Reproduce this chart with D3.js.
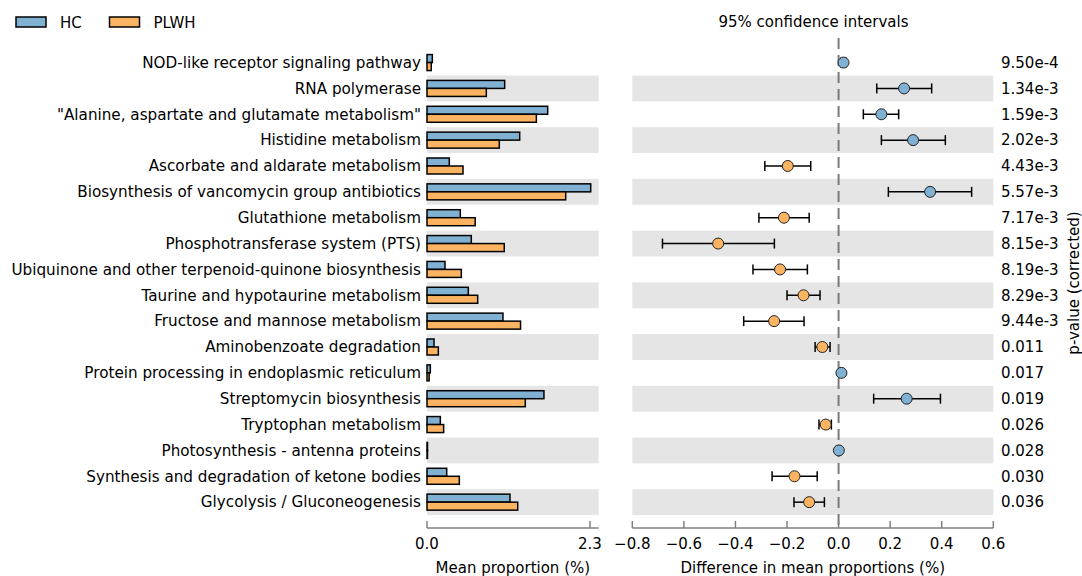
<!DOCTYPE html>
<html>
<head>
<meta charset="utf-8">
<script src="https://cdn.jsdelivr.net/npm/d3@7"></script>
<style>
  body { margin: 0; background: #fff; }
  svg text { font-family: "DejaVu Sans", sans-serif; fill: #000; }
</style>
</head>
<body>
<svg id="chart" width="1082" height="576"></svg>
<script>
var categories = [
  "NOD-like receptor signaling pathway",
  "RNA polymerase",
  "\"Alanine, aspartate and glutamate metabolism\"",
  "Histidine metabolism",
  "Ascorbate and aldarate metabolism",
  "Biosynthesis of vancomycin group antibiotics",
  "Glutathione metabolism",
  "Phosphotransferase system (PTS)",
  "Ubiquinone and other terpenoid-quinone biosynthesis",
  "Taurine and hypotaurine metabolism",
  "Fructose and mannose metabolism",
  "Aminobenzoate degradation",
  "Protein processing in endoplasmic reticulum",
  "Streptomycin biosynthesis",
  "Tryptophan metabolism",
  "Photosynthesis - antenna proteins",
  "Synthesis and degradation of ketone bodies",
  "Glycolysis / Gluconeogenesis"
];
var hcMean   = [0.075, 1.096, 1.703, 1.308, 0.315, 2.31, 0.47, 0.625, 0.254, 0.583, 1.072, 0.099, 0.047, 1.65, 0.188, 0.006, 0.278, 1.171];
var plwhMean = [0.06, 0.837, 1.543, 1.02, 0.508, 1.957, 0.68, 1.09, 0.484, 0.715, 1.32, 0.16, 0.03, 1.387, 0.235, 0.005, 0.456, 1.28];
var diffMean = [0.019, 0.254, 0.166, 0.289, -0.197, 0.355, -0.212, -0.467, -0.227, -0.136, -0.25, -0.063, 0.011, 0.264, -0.05, 0.001, -0.171, -0.114];
var ciLow    = [0.009, 0.148, 0.096, 0.166, -0.286, 0.193, -0.309, -0.683, -0.332, -0.2, -0.368, -0.091, 0.006, 0.136, -0.076, -0.001, -0.258, -0.173];
var ciHigh   = [0.029, 0.361, 0.233, 0.414, -0.108, 0.516, -0.114, -0.249, -0.121, -0.072, -0.134, -0.033, 0.016, 0.395, -0.028, 0.003, -0.083, -0.055];
var pValues  = ["9.50e-4", "1.34e-3", "1.59e-3", "2.02e-3", "4.43e-3", "5.57e-3", "7.17e-3", "8.15e-3", "8.19e-3", "8.29e-3", "9.44e-3", "0.011", "0.017", "0.019", "0.026", "0.028", "0.030", "0.036"];
var groups = ["HC", "PLWH"];
var groupColors = ["#80b1d3", "#fdb462"];
var barTicks = [0, 2.3];
var diffTicks = [-0.8, -0.6, -0.4, -0.2, 0.0, 0.2, 0.4, 0.6];

var svg = d3.select("#chart");
var fontSize = 15;
var plotTop = 38, plotBottom = 528;

var y = d3.scaleLinear()
    .domain([-0.95, 18])
    .range([plotTop, plotBottom]);
var rowH = y(1) - y(0);

var xBar = d3.scaleLinear()
    .domain([0, 2.3])
    .range([427, 590]);
var barRight = 598.7;

var xDiff = d3.scaleLinear()
    .domain([-0.8, 0.6])
    .range([632.3, 993.3]);

var rows = categories.map(function(c, i) {
  return {name: c, i: i, hc: hcMean[i], plwh: plwhMean[i], diff: diffMean[i], lo: ciLow[i], hi: ciHigh[i], p: pValues[i]};
});

// alternating stripes
var stripes = rows.filter(function(d) { return d.i % 2 == 1; });
svg.append("g").selectAll("rect")
    .data(stripes)
    .enter().append("rect")
    .attr("x", xBar(0))
    .attr("width", barRight - xBar(0))
    .attr("y", function(d) { return y(d.i) - rowH / 2; })
    .attr("height", rowH)
    .attr("fill", "#e5e5e5");
svg.append("g").selectAll("rect")
    .data(stripes)
    .enter().append("rect")
    .attr("x", xDiff.range()[0])
    .attr("width", xDiff.range()[1] - xDiff.range()[0])
    .attr("y", function(d) { return y(d.i) - rowH / 2; })
    .attr("height", rowH)
    .attr("fill", "#e5e5e5");

// category labels
svg.append("g").selectAll("text")
    .data(rows)
    .enter().append("text")
    .attr("x", 421)
    .attr("y", function(d) { return y(d.i); })
    .attr("dy", "0.35em")
    .attr("text-anchor", "end")
    .style("font-size", "15.2px")
    .text(function(d) { return d.name; });

// bars
var barH = 8;
var bars = svg.append("g");
bars.selectAll("rect.hc")
    .data(rows)
    .enter().append("rect")
    .attr("class", "hc")
    .attr("x", xBar(0))
    .attr("y", function(d) { return y(d.i) - barH; })
    .attr("width", function(d) { return Math.max(xBar(d.hc) - xBar(0), 0.5); })
    .attr("height", barH)
    .attr("fill", groupColors[0])
    .attr("stroke", "#000")
    .attr("stroke-width", 1.5);
bars.selectAll("rect.plwh")
    .data(rows)
    .enter().append("rect")
    .attr("class", "plwh")
    .attr("x", xBar(0))
    .attr("y", function(d) { return y(d.i); })
    .attr("width", function(d) { return Math.max(xBar(d.plwh) - xBar(0), 0.5); })
    .attr("height", barH)
    .attr("fill", groupColors[1])
    .attr("stroke", "#000")
    .attr("stroke-width", 1.5);

// bar axis
var barAxis = svg.append("g")
    .attr("transform", "translate(0," + plotBottom + ")");
barAxis.append("line")
    .attr("x1", xBar(0)).attr("x2", barRight)
    .attr("stroke", "#808080").attr("stroke-width", 1.5);
barAxis.selectAll("line.tick")
    .data(barTicks)
    .enter().append("line")
    .attr("class", "tick")
    .attr("x1", xBar).attr("x2", xBar)
    .attr("y1", 0).attr("y2", -7)
    .attr("stroke", "#808080").attr("stroke-width", 1.5);
barAxis.selectAll("text")
    .data(barTicks)
    .enter().append("text")
    .attr("x", xBar)
    .attr("y", 21)
    .attr("text-anchor", "middle")
    .style("font-size", fontSize + "px")
    .text(d3.format(".1f"));
svg.append("text")
    .attr("x", (xBar(0) + barRight) / 2)
    .attr("y", 573)
    .attr("text-anchor", "middle")
    .style("font-size", fontSize + "px")
    .text("Mean proportion (%)");

// zero line
svg.append("line")
    .attr("x1", xDiff(0)).attr("x2", xDiff(0))
    .attr("y1", plotTop).attr("y2", plotBottom)
    .attr("stroke", "#7a7a7a")
    .attr("stroke-width", 2)
    .attr("stroke-dasharray", "11,6");

// confidence intervals
var ci = svg.append("g");
ci.selectAll("line.ci")
    .data(rows)
    .enter().append("line")
    .attr("class", "ci")
    .attr("x1", function(d) { return xDiff(d.lo); })
    .attr("x2", function(d) { return xDiff(d.hi); })
    .attr("y1", function(d) { return y(d.i); })
    .attr("y2", function(d) { return y(d.i); })
    .attr("stroke", "#000").attr("stroke-width", 1.5);
["lo", "hi"].forEach(function(k) {
  ci.selectAll("line.cap-" + k)
      .data(rows)
      .enter().append("line")
      .attr("class", "cap-" + k)
      .attr("x1", function(d) { return xDiff(d[k]); })
      .attr("x2", function(d) { return xDiff(d[k]); })
      .attr("y1", function(d) { return y(d.i) - 5; })
      .attr("y2", function(d) { return y(d.i) + 5; })
      .attr("stroke", "#000").attr("stroke-width", 1.5);
});
ci.selectAll("circle")
    .data(rows)
    .enter().append("circle")
    .attr("cx", function(d) { return xDiff(d.diff); })
    .attr("cy", function(d) { return y(d.i); })
    .attr("r", 5.5)
    .attr("fill", function(d) { return d.diff >= 0 ? groupColors[0] : groupColors[1]; })
    .attr("stroke", "#222")
    .attr("stroke-width", 1);

// difference axis
var diffAxis = svg.append("g")
    .attr("transform", "translate(0," + plotBottom + ")");
diffAxis.append("line")
    .attr("x1", xDiff.range()[0]).attr("x2", xDiff.range()[1])
    .attr("stroke", "#808080").attr("stroke-width", 1.5);
diffAxis.selectAll("line.tick")
    .data(diffTicks)
    .enter().append("line")
    .attr("class", "tick")
    .attr("x1", xDiff).attr("x2", xDiff)
    .attr("y1", 0).attr("y2", -7)
    .attr("stroke", "#808080").attr("stroke-width", 1.5);
diffAxis.selectAll("text")
    .data(diffTicks)
    .enter().append("text")
    .attr("x", xDiff)
    .attr("y", 21)
    .attr("text-anchor", "middle")
    .style("font-size", fontSize + "px")
    .text(d3.format(".1f"));
svg.append("text")
    .attr("x", (xDiff.range()[0] + xDiff.range()[1]) / 2)
    .attr("y", 573)
    .attr("text-anchor", "middle")
    .style("font-size", fontSize + "px")
    .text("Difference in mean proportions (%)");

svg.append("text")
    .attr("x", 813.5)
    .attr("y", 26.5)
    .attr("text-anchor", "middle")
    .style("font-size", fontSize + "px")
    .text("95% confidence intervals");

// p-values
svg.append("g").selectAll("text")
    .data(rows)
    .enter().append("text")
    .attr("x", 1001)
    .attr("y", function(d) { return y(d.i); })
    .attr("dy", "0.35em")
    .style("font-size", fontSize + "px")
    .text(function(d) { return d.p; });
svg.append("text")
    .attr("transform", "translate(1079," + ((plotTop + plotBottom) / 2) + ") rotate(-90)")
    .attr("text-anchor", "middle")
    .style("font-size", fontSize + "px")
    .text("p-value (corrected)");

// legend
var legend = svg.append("g").selectAll("g")
    .data(groups)
    .enter().append("g")
    .attr("transform", function(d, i) { return "translate(" + (16 + i * 93.5) + ",17)"; });
legend.append("rect")
    .attr("width", 30).attr("height", 10)
    .attr("fill", function(d, i) { return groupColors[i]; })
    .attr("stroke", "#000").attr("stroke-width", 1.5);
legend.append("text")
    .attr("x", 44)
    .attr("y", 10.5)
    .style("font-size", fontSize + "px")
    .text(function(d) { return d; });
</script>
</body>
</html>
